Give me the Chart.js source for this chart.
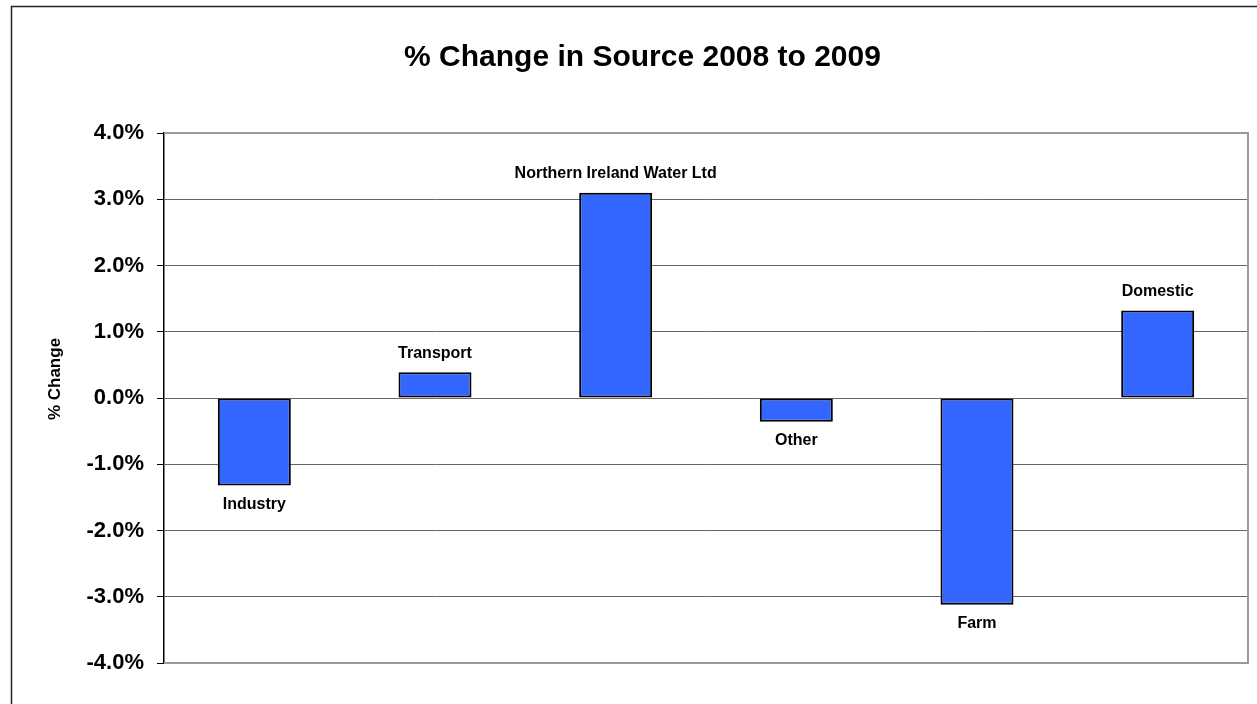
<!DOCTYPE html>
<html>
<head>
<meta charset="utf-8">
<script src="https://cdn.jsdelivr.net/npm/chart.js@4"></script>
<style>
  html, body { margin: 0; padding: 0; background: #fff; }
  canvas { display: block; }
</style>
</head>
<body>
<canvas id="c" width="1257" height="704"></canvas>
<script>
const categories = ['Industry', 'Transport', 'Northern Ireland Water Ltd', 'Other', 'Farm', 'Domestic'];
const changePct = [-1.32, 0.39, 3.10, -0.36, -3.12, 1.32];
const yTickValues = [-4, -3, -2, -1, 0, 1, 2, 3, 4];
const chartTitle = '% Change in Source 2008 to 2009';
const yAxisTitle = '% Change';

const FONT = "'Liberation Sans', Arial, sans-serif";

const framePlugin = {
  id: 'frame',
  beforeDraw(chart) {
    const ctx = chart.ctx;
    ctx.save();
    ctx.fillStyle = '#fff';
    ctx.fillRect(0, 0, chart.width, chart.height);
    ctx.strokeStyle = '#222';
    ctx.lineWidth = 1.5;
    ctx.strokeRect(11.5, 6.5, 1400, 900);
    ctx.restore();
  },
  beforeDatasetsDraw(chart) {
    const a = chart.chartArea;
    const ctx = chart.ctx;
    ctx.save();
    ctx.strokeStyle = '#9a9a9a';
    ctx.lineWidth = 2;
    ctx.beginPath();
    ctx.moveTo(a.left, a.top);
    ctx.lineTo(a.right, a.top);
    ctx.lineTo(a.right, a.bottom);
    ctx.lineTo(a.left, a.bottom);
    ctx.stroke();
    ctx.restore();
  }
};

const labelPlugin = {
  id: 'barLabels',
  afterDatasetsDraw(chart) {
    const ctx = chart.ctx;
    const meta = chart.getDatasetMeta(0);
    ctx.save();
    ctx.font = 'bold 16px ' + FONT;
    ctx.fillStyle = '#000';
    ctx.textAlign = 'center';
    ctx.textBaseline = 'middle';
    meta.data.forEach((el, i) => {
      const v = changePct[i];
      const y = v >= 0 ? el.y - 19 : el.y + 19;
      ctx.fillText(categories[i], el.x, y);
    });
    // y-axis title
    ctx.translate(55, 379);
    ctx.rotate(-Math.PI / 2);
    ctx.font = 'bold 17px ' + FONT;
    ctx.fillText(yAxisTitle, 0, 0);
    ctx.restore();
  }
};

new Chart(document.getElementById('c'), {
  type: 'bar',
  data: {
    labels: categories,
    datasets: [{
      data: changePct,
      backgroundColor: '#3366FF',
      borderColor: '#000',
      borderWidth: 2,
      borderSkipped: false,
      barPercentage: 0.404,
      categoryPercentage: 1.0
    }]
  },
  options: {
    responsive: false,
    animation: false,
    layout: { padding: { left: 37, right: 9, top: 0, bottom: 41 } },
    plugins: {
      legend: { display: false },
      tooltip: { enabled: false },
      title: {
        display: true,
        text: chartTitle,
        color: '#000',
        font: { family: FONT, size: 30, weight: 'bold' },
        padding: { top: 40, bottom: 57 }
      }
    },
    scales: {
      x: {
        display: false
      },
      y: {
        min: yTickValues[0],
        max: yTickValues[yTickValues.length - 1],
        afterBuildTicks(scale) {
          scale.ticks = yTickValues.map(v => ({ value: v }));
        },
        afterFit(scale) { scale.width = 127; },
        ticks: {
          color: '#000',
          padding: 13,
          font: { family: FONT, size: 22, weight: 'bold' },
          callback: v => Number(v).toFixed(1) + '%'
        },
        grid: {
          color: '#666',
          lineWidth: 1,
          tickColor: '#000',
          tickLength: 7
        },
        border: { color: '#000', width: 1.5 }
      }
    }
  },
  plugins: [framePlugin, labelPlugin]
});
</script>
</body>
</html>
